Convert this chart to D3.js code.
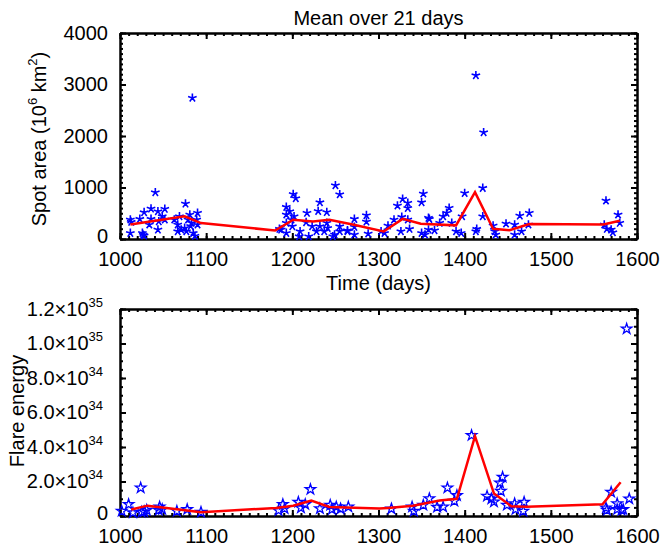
<!DOCTYPE html>
<html lang="en">
<head>
<meta charset="utf-8">
<title>Mean over 21 days</title>
<script type="text/javascript" src="https://cdn.jsdelivr.net/npm/d3@7"></script>
<style media="screen">
  body {
    margin: 0;
    background-color: white;
  }

  svg text {
    font-family: "Liberation Sans", Arial, Helvetica, sans-serif;
    font-size: 20px;
    fill: black;
  }

  .axis path, .axis line {
    stroke: black;
    stroke-width: 2;
  }
</style>
</head>
<body>
<script type="text/javascript">
  // spot area, [day, 10^6 km^2]
  let spotPoints = [
    [1012,375],[1012,116],[1013,330],[1023,388],[1026,116],[1027,80],[1028,64],[1028,517],
    [1034,278],[1036,588],[1036,388],[1041,905],[1044,536],[1044,180],[1045,340],[1049,440],
    [1052,583],[1052,375],[1063,375],[1067,278],[1067,148],[1069,439],[1071,180],[1075,213],
    [1076,685],[1077,148],[1079,375],[1081,472],[1083,311],[1084,2740],[1085,116],[1089,375],
    [1090,505],[1090,278],[1082,250],[1087,60],
    [1185,194],[1187,180],[1193,621],[1193,472],[1193,311],[1193,116],[1197,536],[1199,375],
    [1200,245],[1201,870],[1202,439],[1204,790],[1208,50],[1209,148],[1216,323],[1217,505],
    [1219,50],[1223,245],[1228,148],[1230,540],[1232,711],[1232,245],[1237,148],[1240,520],
    [1240,311],[1241,213],[1247,50],[1249,84],[1250,1040],[1255,865],[1255,245],[1255,148],
    [1264,148],[1264,167],[1272,388],[1272,233],[1272,84],[1286,460],[1286,335],[1288,103],
    [1303,148],[1307,116],[1311,258],[1318,375],[1322,647],[1326,148],[1327,427],[1328,777],
    [1334,699],[1334,600],[1334,375],[1336,194],[1350,711],[1350,116],[1352,880],[1354,84],
    [1358,408],[1358,180],[1359,388],
    [1365,167],[1371,311],[1375,439],[1379,505],[1382,602],[1385,311],[1390,148],[1396,116],
    [1397,439],[1400,890],[1413,3177],[1413,148],[1414,194],[1421,990],[1421,439],[1422,2070],
    [1433,258],[1435,148],[1436,84],[1448,297],[1458,278],[1458,84],[1464,452],[1466,148],
    [1474,278],[1475,505],
    [1562,278],[1564,744],[1565,194],[1570,180],[1572,128],[1578,472],[1580,311]
  ]

  // 21 day means of spot area
  let spotMean = [
    [1012,280],[1075,440],[1094,310],[1180,165],[1201,375],[1224,340],[1243,375],[1270,280],
    [1306,145],[1328,390],[1349,295],[1390,265],[1412,910],[1433,200],[1452,170],[1475,290],
    [1561,280],[1580,355]
  ]

  // flare energy, [day, units of 10^34]
  let flarePoints = [
    [1002,0.28],[1010,0.67],[1015,0.19],[1024,1.63],[1025,0.22],[1028,0.26],[1031,0.34],
    [1045,0.34],[1046,0.53],[1049,0.38],[1066,0.28],[1078,0.38],[1094,0.22],
    [1184,0.32],[1189,0.67],[1191,0.43],[1207,0.8],[1210,0.47],[1215,0.67],[1221,1.54],
    [1232,0.43],[1244,0.63],[1246,0.38],[1251,0.53],[1256,0.42],[1265,0.53],
    [1315,0.42],[1339,0.53],[1341,0.28],[1352,0.63],[1359,1.01],[1368,0.51],[1375,0.53],
    [1380,1.63],[1388,0.86],[1391,1.19],[1408,4.67],[1426,1.15],[1431,1.0],[1434,0.82],
    [1441,1.92],[1442,1.44],[1444,2.25],[1449,0.63],[1458,0.72],[1459,0.38],[1468,0.28],
    [1469,0.8],
    [1564,0.47],[1565,0.34],[1570,1.38],[1577,0.72],[1577,0.38],[1582,0.34],[1584,0.38],
    [1588,10.85],[1591,1.0]
  ]

  // 21 day means of flare energy
  let flareMean = [
    [1013,0.38],[1032,0.6],[1054,0.47],[1094,0.22],[1181,0.47],[1201,0.6],[1222,0.9],
    [1243,0.52],[1301,0.43],[1311,0.47],[1340,0.6],[1371,0.9],[1391,1.0],[1412,4.63],
    [1434,1.3],[1454,0.57],[1472,0.53],[1560,0.68],[1581,1.96]
  ]

  let dayTicks = [1000, 1100, 1200, 1300, 1400, 1500, 1600]
  let areaTicks = [0, 1000, 2000, 3000, 4000]
  let energyTicks = [0, 2, 4, 6, 8, 10, 12]

  let w = 663
  let h = 546
  let left = 120
  let right = 637

  let svg = d3.select("body")
    .append("svg")
    .attr("width", w)
    .attr("height", h)

  let xScale = d3.scaleLinear()
    .domain([1000, 1600])
    .range([left, right])

  let yTop = d3.scaleLinear()
    .domain([0, 4000])
    .range([239, 33])

  let yBottom = d3.scaleLinear()
    .domain([0, 12])
    .range([516, 309])

  // five armed asterisk like the IDL one
  function asterisk(r) {
    let p = ""
    for(let k = 0; k < 5; k++) {
      let a = (-90 + 72 * k) * Math.PI / 180
      p += "M0,0L" + (r * Math.cos(a)).toFixed(2) + "," + (r * Math.sin(a)).toFixed(2)
    }
    return p
  }

  // draws the 4 framed axes with inward ticks
  function frame(yScale, yMajor, yMinor, top, bottom, yFormat, yPad) {
    let g = svg.append("g")

    g.append("g").attr("class", "axis")
      .attr("transform", "translate(0," + bottom + ")")
      .call(d3.axisBottom(xScale).tickValues(d3.range(1000, 1601, 10)).tickSize(-3).tickSizeOuter(0).tickFormat(""))
    g.append("g").attr("class", "axis")
      .attr("transform", "translate(0," + bottom + ")")
      .call(d3.axisBottom(xScale).tickValues(dayTicks).tickSize(-6).tickSizeOuter(0).tickPadding(13).tickFormat(d3.format("d")))
    g.append("g").attr("class", "axis")
      .attr("transform", "translate(0," + top + ")")
      .call(d3.axisTop(xScale).tickValues(d3.range(1000, 1601, 10)).tickSize(-3).tickSizeOuter(0).tickFormat(""))
    g.append("g").attr("class", "axis")
      .attr("transform", "translate(0," + top + ")")
      .call(d3.axisTop(xScale).tickValues(dayTicks).tickSize(-6).tickSizeOuter(0).tickFormat(""))

    g.append("g").attr("class", "axis")
      .attr("transform", "translate(" + left + ",0)")
      .call(d3.axisLeft(yScale).tickValues(yMinor).tickSize(-3).tickSizeOuter(0).tickFormat(""))
    g.append("g").attr("class", "axis y-major")
      .attr("transform", "translate(" + left + ",0)")
      .call(d3.axisLeft(yScale).tickValues(yMajor).tickSize(-6).tickSizeOuter(0).tickPadding(yPad).tickFormat(yFormat))
    g.append("g").attr("class", "axis")
      .attr("transform", "translate(" + right + ",0)")
      .call(d3.axisRight(yScale).tickValues(yMinor).tickSize(-3).tickSizeOuter(0).tickFormat(""))
    g.append("g").attr("class", "axis")
      .attr("transform", "translate(" + right + ",0)")
      .call(d3.axisRight(yScale).tickValues(yMajor).tickSize(-6).tickSizeOuter(0).tickFormat(""))

    g.selectAll("text").attr("font-size", null).attr("font-family", null)
    // keep the zero label clear of the first day label
    g.selectAll(".y-major .tick").filter((d) => d === 0).select("text").attr("y", -3)
    return g
  }

  // ---- top panel: spot area ----
  frame(yTop, areaTicks, d3.range(0, 4001, 100), 33, 239, d3.format("d"), 12)

  svg.append("g")
    .selectAll("path")
    .data(spotPoints)
    .enter()
    .append("path")
    .attr("transform", (d) => "translate(" + xScale(d[0]) + "," + yTop(d[1]) + ")")
    .attr("d", asterisk(4.5))
    .attr("stroke", "#0000ff")
    .attr("stroke-width", 1.6)
    .attr("fill", "none")

  svg.append("path")
    .datum(spotMean)
    .attr("d", d3.line().x((d) => xScale(d[0])).y((d) => yTop(d[1])))
    .attr("fill", "none")
    .attr("stroke", "#ff0000")
    .attr("stroke-width", 2.5)

  svg.append("text")
    .attr("x", (left + right) / 2)
    .attr("y", 25)
    .attr("text-anchor", "middle")
    .text("Mean over 21 days")

  svg.append("text")
    .attr("x", (left + right) / 2)
    .attr("y", 290)
    .attr("text-anchor", "middle")
    .text("Time (days)")

  let spotLabel = svg.append("text")
    .attr("transform", "translate(46,139) rotate(-90)")
    .attr("text-anchor", "middle")
  spotLabel.append("tspan").text("Spot area (10")
  spotLabel.append("tspan").attr("dy", -9).attr("font-size", 13).text("6")
  spotLabel.append("tspan").attr("dy", 9).text(" km")
  spotLabel.append("tspan").attr("dy", -9).attr("font-size", 13).text("2")
  spotLabel.append("tspan").attr("dy", 9).text(")")

  // ---- bottom panel: flare energy ----
  let bottomFrame = frame(yBottom, energyTicks, d3.range(0, 12.01, 0.5), 309, 516, (d) => "", 17)

  // mantissa x 10^exponent labels
  bottomFrame.selectAll(".y-major .tick text").each(function(d) {
    let t = d3.select(this)
    if(d === 0) {
      t.attr("x", -12).text("0")
      return
    }
    let v = d * 1e34
    let exp = Math.floor(Math.log10(v) + 1e-9)
    let mant = (v / Math.pow(10, exp)).toFixed(1)
    t.append("tspan").text(mant + "\u00d710")
    t.append("tspan").attr("dy", -9).attr("font-size", 13).text(exp)
  })

  svg.append("g")
    .selectAll("path")
    .data(flarePoints)
    .enter()
    .append("path")
    .attr("transform", (d) => "translate(" + xScale(d[0]) + "," + yBottom(d[1]) + ")")
    .attr("d", d3.symbol(d3.symbolStar, 34))
    .attr("stroke", "#0000ff")
    .attr("stroke-width", 1.3)
    .attr("fill", "none")

  svg.append("path")
    .datum(flareMean)
    .attr("d", d3.line().x((d) => xScale(d[0])).y((d) => yBottom(d[1])))
    .attr("fill", "none")
    .attr("stroke", "#ff0000")
    .attr("stroke-width", 2.5)

  svg.append("text")
    .attr("transform", "translate(24,411) rotate(-90)")
    .attr("text-anchor", "middle")
    .text("Flare energy")
</script>
</body>
</html>
